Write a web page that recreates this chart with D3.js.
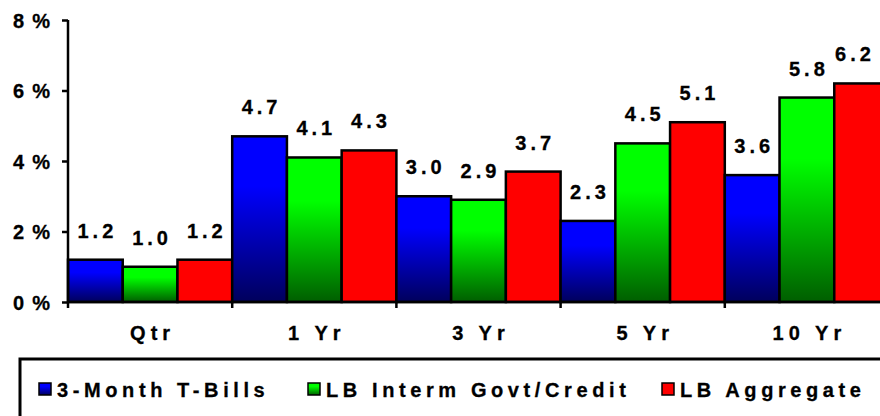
<!DOCTYPE html>
<html>
<head>
<meta charset="utf-8">
<script src="https://cdn.jsdelivr.net/npm/d3@7"></script>
<style>
  body { margin: 0; background: #fff; }
  svg { display: block; }
  text { font-family: Arial, "Liberation Sans", sans-serif; font-weight: bold; fill: #000; stroke: #000; stroke-width: 0.3px; }
</style>
</head>
<body>
<svg id="chart" width="880" height="416"></svg>
<script>
const categories = ['Qtr', '1 Yr', '3 Yr', '5 Yr', '10 Yr'];
const seriesNames = ['3-Month T-Bills', 'LB Interm Govt/Credit', 'LB Aggregate'];
const tBills = [1.2, 4.7, 3.0, 2.3, 3.6];
const intermGovtCredit = [1.0, 4.1, 2.9, 4.5, 5.8];
const aggregate = [1.2, 4.3, 3.7, 5.1, 6.2];
const yTicks = [0, 2, 4, 6, 8];

const seriesValues = [tBills, intermGovtCredit, aggregate];

const width = 880, height = 416;
const plot = { left: 68, right: 889, top: 20, bottom: 302 };

const svg = d3.select('#chart');

// gradients: bright on top, darkening towards the base
const defs = svg.append('defs');
const fills = [
  { id: 'g-blue', top: '#0000ff', bottom: '#00005c' },
  { id: 'g-green', top: '#00ff00', bottom: '#005e00' },
  { id: 'g-red', top: '#ff0000', bottom: '#ff0000' }
];
fills.forEach(f => {
  const g = defs.append('linearGradient')
    .attr('id', f.id)
    .attr('x1', 0).attr('y1', 0).attr('x2', 0).attr('y2', 1);
  g.append('stop').attr('offset', '0%').attr('stop-color', f.top);
  g.append('stop').attr('offset', '30%').attr('stop-color', f.top);
  g.append('stop').attr('offset', '100%').attr('stop-color', f.bottom);
});

const x0 = d3.scaleBand()
  .domain(categories)
  .range([plot.left, plot.right])
  .paddingInner(0)
  .paddingOuter(0);

const x1 = d3.scaleBand()
  .domain(d3.range(seriesNames.length))
  .range([0, x0.bandwidth()])
  .padding(0);

const y = d3.scaleLinear()
  .domain([0, 8])
  .range([plot.bottom, plot.top]);

const rows = categories.map((c, i) => ({
  category: c,
  values: seriesValues.map((s, k) => ({ series: k, value: s[i] }))
}));

// bars
const groups = svg.append('g')
  .selectAll('g')
  .data(rows)
  .join('g')
  .attr('transform', d => `translate(${x0(d.category)},0)`);

groups.selectAll('rect')
  .data(d => d.values)
  .join('rect')
  .attr('x', d => x1(d.series))
  .attr('y', d => y(d.value))
  .attr('width', x1.bandwidth())
  .attr('height', d => y(0) - y(d.value))
  .attr('fill', d => `url(#${fills[d.series].id})`)
  .attr('stroke', '#000')
  .attr('stroke-width', 2.5);

// data labels
const labelSpacing = 4;
groups.selectAll('text')
  .data(d => d.values)
  .join('text')
  .attr('x', function(d) {
    const cx = x1(d.series) + x1.bandwidth() / 2;
    const abs = x0(d3.select(this.parentNode).datum().category) + cx;
    // keep labels inside the visible area
    return Math.min(abs, width - 27) - abs + cx + labelSpacing / 2;
  })
  .attr('y', d => y(d.value) - 22)
  .attr('text-anchor', 'middle')
  .style('font-size', '20px')
  .style('letter-spacing', labelSpacing + 'px')
  .text(d => d.value.toFixed(1));

// y axis
const yAxis = svg.append('g')
  .attr('transform', `translate(${plot.left},0)`)
  .call(d3.axisLeft(y).tickValues(yTicks).tickSize(6).tickPadding(4).tickFormat(d => d + '%'));
yAxis.select('.domain').attr('stroke', '#000').attr('stroke-width', 2.5)
  .attr('d', `M0,${plot.top}V${plot.bottom}`);
yAxis.selectAll('.tick line').attr('stroke', '#000').attr('stroke-width', 2.5);
yAxis.selectAll('.tick text')
  .style('font-size', '20px')
  .style('letter-spacing', '8px')
  .style('font-family', 'Arial, "Liberation Sans", sans-serif')
  .attr('fill', '#000')
  .attr('dy', '0.36em');

// x axis with ticks on category boundaries
const xAxis = svg.append('g')
  .attr('transform', `translate(0,${plot.bottom})`);
xAxis.append('line')
  .attr('x1', plot.left).attr('x2', plot.right)
  .attr('stroke', '#000').attr('stroke-width', 2.5);
const boundaries = categories.map(c => x0(c)).concat([plot.right]);
xAxis.selectAll('.bound')
  .data(boundaries)
  .join('line')
  .attr('class', 'bound')
  .attr('x1', d => d).attr('x2', d => d)
  .attr('y1', 0).attr('y2', 6)
  .attr('stroke', '#000').attr('stroke-width', 2.5);
const catSpacing = 5;
xAxis.selectAll('.cat')
  .data(categories)
  .join('text')
  .attr('class', 'cat')
  .attr('x', d => x0(d) + x0.bandwidth() / 2 + catSpacing / 2)
  .attr('y', 38)
  .attr('text-anchor', 'middle')
  .style('font-size', '20px')
  .style('letter-spacing', catSpacing + 'px')
  .text(d => d);

// legend
const legend = svg.append('g');
legend.append('rect')
  .attr('x', 20).attr('y', 359)
  .attr('width', 900).attr('height', 100)
  .attr('fill', '#fff')
  .attr('stroke', '#000')
  .attr('stroke-width', 3);

const legendX = [39, 308, 662];
const items = legend.selectAll('.item')
  .data(seriesNames)
  .join('g')
  .attr('class', 'item')
  .attr('transform', (d, i) => `translate(${legendX[i]},383)`);
items.append('rect')
  .attr('width', 12).attr('height', 12)
  .attr('fill', (d, i) => `url(#${fills[i].id})`)
  .attr('stroke', '#000')
  .attr('stroke-width', 1.5);
items.append('text')
  .attr('x', 18)
  .attr('y', 14)
  .style('font-size', '20px')
  .style('letter-spacing', '4.6px')
  .text(d => d);
</script>
</body>
</html>
